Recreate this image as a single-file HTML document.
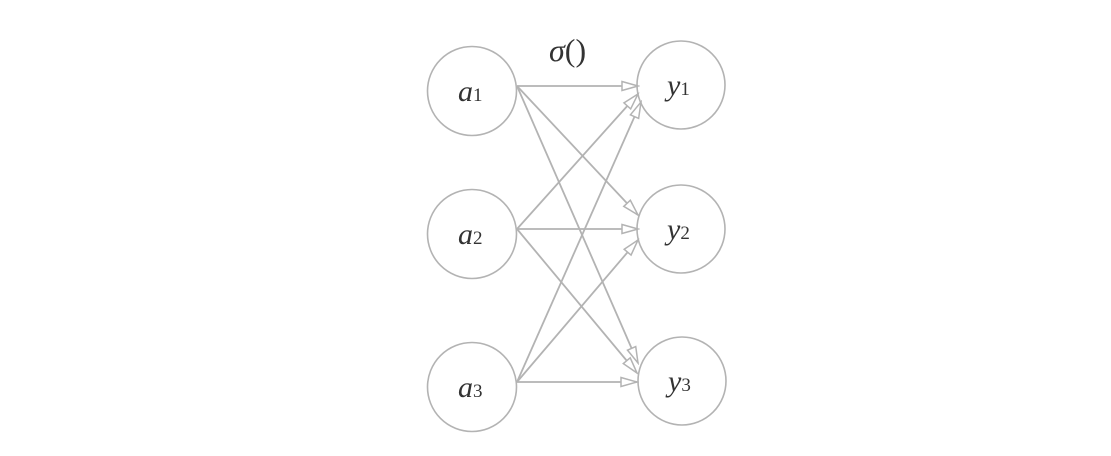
<!DOCTYPE html>
<html><head><meta charset="utf-8"><style>
html,body{margin:0;padding:0;background:#fff;width:1111px;height:456px;overflow:hidden}
</style></head><body>
<svg width="1111" height="456" xmlns="http://www.w3.org/2000/svg">
<defs>
<marker id="ar" markerWidth="20" markerHeight="14" refX="18" refY="7" orient="auto" markerUnits="userSpaceOnUse">
<path d="M2,2.5 L18,7 L2,11.5 Z" fill="#fff" stroke="#b3b3b3" stroke-width="1.5"/>
</marker>
</defs>
<g fill="none" stroke="#b3b3b3" stroke-width="1.6">
<circle cx="472" cy="91" r="44.5"/>
<circle cx="472" cy="234" r="44.5"/>
<circle cx="472" cy="387" r="44.5"/>
<circle cx="681" cy="85" r="44"/>
<circle cx="681" cy="229" r="44"/>
<circle cx="682" cy="381" r="44"/>
</g>
<g stroke="#b3b3b3" stroke-width="1.8" marker-end="url(#ar)">
<line x1="517" y1="86" x2="638" y2="86"/>
<line x1="517" y1="86" x2="638" y2="215"/>
<line x1="517" y1="86" x2="638" y2="363"/>
<line x1="517" y1="229" x2="638" y2="94"/>
<line x1="517" y1="229" x2="638" y2="229"/>
<line x1="517" y1="229" x2="637" y2="373"/>
<line x1="517" y1="382" x2="641" y2="102"/>
<line x1="517" y1="382" x2="638" y2="240"/>
<line x1="517" y1="382" x2="637" y2="382"/>
</g>
<g font-family="Liberation Serif, serif" font-style="italic" font-size="30" fill="#333">
<text x="458" y="101">a<tspan font-style="normal" font-size="19">1</tspan></text>
<text x="458" y="244">a<tspan font-style="normal" font-size="19">2</tspan></text>
<text x="458" y="397">a<tspan font-style="normal" font-size="19">3</tspan></text>
<text x="667" y="95">y<tspan font-style="normal" font-size="19">1</tspan></text>
<text x="667" y="239">y<tspan font-style="normal" font-size="19">2</tspan></text>
<text x="668" y="391">y<tspan font-style="normal" font-size="19">3</tspan></text>
<text x="549" y="61" font-size="32">σ<tspan font-style="normal">()</tspan></text>
</g>
</svg>
</body></html>
